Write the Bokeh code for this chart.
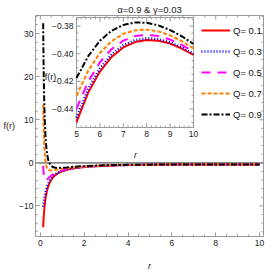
import numpy as np
from bokeh.plotting import figure
from bokeh.models import Range1d, FixedTicker, Span, Legend, LegendItem
from bokeh.core.properties import value
from bokeh.embed import file_html
from bokeh.resources import INLINE

# ---------------- data ----------------
r = [0.13, 0.14, 0.15, 0.16, 0.18, 0.2, 0.22, 0.25, 0.3, 0.35, 0.4, 0.45, 0.5,
     0.6, 0.7, 0.8, 0.9, 1.0, 1.2, 1.4, 1.7, 2.0, 2.5, 3.0, 3.5, 4.0, 4.5, 5.0,
     5.5, 6.0, 6.5, 7.0, 7.5, 8.0, 8.5, 9.0, 9.5, 10.0]

f_q01 = [-14.92, -13.88, -12.98, -12.19, -10.86, -9.80, -8.92, -7.86, -6.55, -5.62,
         -4.91, -4.37, -3.93, -3.26, -2.79, -2.44, -2.16, -1.94, -1.61, -1.38, -1.13,
         -0.964, -0.777, -0.658, -0.577, -0.520, -0.479, -0.4496, -0.4282, -0.4129,
         -0.4023, -0.3954, -0.3915, -0.3900, -0.3905, -0.3926, -0.3962, -0.4009]
f_q03 = [-10.18, -9.80, -9.43, -9.07, -8.40, -7.80, -7.26, -6.58, -5.67, -4.97,
         -4.41, -3.97, -3.61, -3.04, -2.63, -2.31, -2.06, -1.86, -1.56, -1.34, -1.10,
         -0.944, -0.765, -0.649, -0.571, -0.515, -0.475, -0.4464, -0.4255, -0.4106,
         -0.4004, -0.3938, -0.3901, -0.3887, -0.3894, -0.3917, -0.3953, -0.4001]
f_q05 = [-0.72, -1.64, -2.32, -2.82, -3.46, -3.80, -3.96, -4.02, -3.89, -3.66,
         -3.41, -3.18, -2.97, -2.60, -2.30, -2.06, -1.86, -1.70, -1.44, -1.25, -1.05,
         -0.904, -0.739, -0.631, -0.557, -0.505, -0.467, -0.4400, -0.4202, -0.4062,
         -0.3966, -0.3905, -0.3872, -0.3862, -0.3872, -0.3897, -0.3935, -0.3985]
f_q07 = [13.48, 10.61, 8.35, 6.56, 3.95, 2.20, 1.00, -0.18, -1.22, -1.60,
         -1.72, -1.76, -1.76, -1.70, -1.62, -1.54, -1.46, -1.39, -1.25, -1.12, -0.97,
         -0.844, -0.701, -0.605, -0.538, -0.490, -0.456, -0.4304, -0.4123, -0.3995,
         -0.3909, -0.3856, -0.3830, -0.3825, -0.3838, -0.3867, -0.3909, -0.3961]
f_q09 = [32.42, 26.93, 22.57, 19.06, 13.83, 10.20, 7.61, 4.94, 2.33, 0.91,
         0.09, -0.42, -0.73, -1.04, -1.16, -1.19, -1.17, -1.14, -1.06, -0.97, -0.85,
         -0.764, -0.649, -0.569, -0.512, -0.470, -0.440, -0.4176, -0.4017, -0.3906,
         -0.3833, -0.3791, -0.3773, -0.3775, -0.3794, -0.3828, -0.3873, -0.3929]

q_labels = ["Q= 0.1", "Q= 0.3", "Q= 0.5", "Q= 0.7", "Q= 0.9"]
title_text = "α=0.9 & γ=0.03"
x_label = "r"
y_label = "f(r)"

main_xticks = [0, 2, 4, 6, 8, 10]
main_yticks = [-10, 0, 10, 20, 30]
inset_xticks = [5, 6, 7, 8, 9, 10]
inset_xtick_labels = ["5", "6", "7", "8", "9", "10"]
inset_yticks = [-0.44, -0.42, -0.40, -0.38]
inset_ytick_labels = ["−0.44", "−0.42", "−0.40", "−0.38"]

# ---------------- styles ----------------
FONT = "Liberation Sans"
TXT = "#222222"
colors = ["#ff0000", "#0000ff", "#ff00ff", "#ff8000", "#000000"]
widths = [2, 2.5, 2, 2, 2]
dashes = ["solid", "1 2", "9 7", "4 2", "6 2 2 2"]
series = [f_q01, f_q03, f_q05, f_q07, f_q09]
FRAME = "#9a9a9a"

X0, X1 = -0.22, 10.18
Y0, Y1 = -17.1, 34.2
FW, FH = 228, 221
pxx = FW / (X1 - X0)
pxy = FH / (Y1 - Y0)

p = figure(frame_width=FW, frame_height=FH,
           x_range=Range1d(X0, X1), y_range=Range1d(Y0, Y1),
           output_backend="svg", toolbar_location=None,
           min_border_left=0, min_border_right=3,
           min_border_top=0, min_border_bottom=37)
p.grid.visible = False
p.outline_line_color = FRAME
p.outline_line_width = 1
p.background_fill_color = "white"
p.border_fill_color = "white"

p.title.text = title_text
p.title.align = "center"
p.title.text_font = FONT
p.title.text_font_size = "9.5px"
p.title.text_font_style = "normal"
p.title.text_color = TXT
p.title.standoff = 2

x_minor = [v for v in np.arange(0, 10.01, 0.5) if v not in main_xticks]
y_minor = [v for v in np.arange(-16, 35, 2) if v not in main_yticks]

p.xaxis.ticker = FixedTicker(ticks=main_xticks, minor_ticks=x_minor)
p.yaxis.ticker = FixedTicker(ticks=main_yticks, minor_ticks=y_minor)
for ax in p.xaxis + p.yaxis:
    ax.axis_line_color = None
    ax.major_tick_in = 4
    ax.major_tick_out = 0
    ax.minor_tick_in = 2
    ax.minor_tick_out = 0
    ax.major_tick_line_color = FRAME
    ax.minor_tick_line_color = FRAME
    ax.major_label_text_font = FONT
    ax.major_label_text_font_size = "8.5px"
    ax.major_label_text_color = TXT
    ax.major_label_standoff = 3
    ax.axis_label_text_font = FONT
    ax.axis_label_text_font_size = "9px"
    ax.axis_label_text_color = TXT

p.xaxis.axis_label = x_label
p.xaxis.axis_label_text_font_style = "italic"
p.xaxis.axis_label_standoff = 12
p.yaxis.axis_label = y_label
p.yaxis.axis_label_text_font_style = "normal"
p.yaxis.axis_label_standoff = 1
p.yaxis.major_label_standoff = 2
for ax in p.yaxis:
    if "axis_label_orientation" in ax.properties():
        ax.axis_label_orientation = "horizontal"

# mirrored ticks on the right and top frame edges
def mirror_ticks(vals, length_px, on_right):
    vals = np.array(vals, float)
    if on_right:
        p.segment(x0=np.full(len(vals), X1), x1=np.full(len(vals), X1 - length_px / pxx),
                  y0=vals, y1=vals, line_color=FRAME, line_width=1)
    else:
        p.segment(y0=np.full(len(vals), Y1), y1=np.full(len(vals), Y1 - length_px / pxy),
                  x0=vals, x1=vals, line_color=FRAME, line_width=1)

mirror_ticks(main_yticks, 4, True)
mirror_ticks(y_minor, 2, True)
mirror_ticks(main_xticks, 4, False)
mirror_ticks(x_minor, 2, False)

# zero axis line
p.add_layout(Span(location=0, dimension="width", line_color="#8a8a8a",
                  line_width=1.6, level="underlay"))

# main curves
main_renderers = []
for ys, c, w, d in zip(series, colors, widths, dashes):
    main_renderers.append(p.line(r, ys, line_color=c, line_width=w, line_dash=d))

# ---------------- inset (drawn on extra ranges) ----------------
IX0, IX1 = 5.0, 10.0
IY0, IY1 = -0.4535, -0.3737
in_left, in_w = 41, 117     # px from frame left / width
in_top, in_h = 2, 110       # px from frame top / height
ipx = in_w / (IX1 - IX0)
ipy = in_h / (IY1 - IY0)
p.extra_x_ranges = {"ix": Range1d(IX0 - in_left / ipx,
                                  IX1 + (FW - in_left - in_w) / ipx)}
p.extra_y_ranges = {"iy": Range1d(IY0 - (FH - in_top - in_h) / ipy,
                                  IY1 + in_top / ipy)}
kw = dict(x_range_name="ix", y_range_name="iy")

p.quad(left=[IX0], right=[IX1], bottom=[IY0], top=[IY1], fill_color="white",
       line_color=FRAME, line_width=1, **kw)

ixm = [v for v in np.arange(IX0, IX1 + 1e-6, 0.2)
       if min(abs(v - t) for t in inset_xticks) > 1e-6]
iym = [v for v in np.arange(-0.450, -0.374, 0.005)
       if min(abs(v - t) for t in inset_yticks) > 1e-6]


def tick_segs(vals, length_px, horizontal_axis):
    vals = np.array(vals, float)
    n = len(vals)
    if horizontal_axis:
        dl = length_px / ipy
        x0 = np.concatenate([vals, vals]); x1 = x0
        y0 = np.concatenate([np.full(n, IY0), np.full(n, IY1)])
        y1 = np.concatenate([np.full(n, IY0 + dl), np.full(n, IY1 - dl)])
    else:
        dl = length_px / ipx
        y0 = np.concatenate([vals, vals]); y1 = y0
        x0 = np.concatenate([np.full(n, IX0), np.full(n, IX1)])
        x1 = np.concatenate([np.full(n, IX0 + dl), np.full(n, IX1 - dl)])
    p.segment(x0=x0, y0=y0, x1=x1, y1=y1, line_color=FRAME, line_width=1, **kw)


tick_segs(inset_xticks, 4, True)
tick_segs(ixm, 2, True)
tick_segs(inset_yticks, 4, False)
tick_segs(iym, 2, False)

p.text(x=[IX0] * len(inset_yticks), y=inset_yticks, text=inset_ytick_labels,
       x_offset=-3, text_align="right", text_baseline="middle",
       text_font=value(FONT), text_font_size="8.5px", text_color=TXT, **kw)
p.text(x=inset_xticks, y=[IY0] * len(inset_xticks), text=inset_xtick_labels,
       y_offset=3, text_align="center", text_baseline="top",
       text_font=value(FONT), text_font_size="8.5px", text_color=TXT, **kw)
p.text(x=[IX0], y=[IY1], text=[y_label], x_offset=-26, y_offset=59,
       text_align="center", text_baseline="middle", text_font=value(FONT),
       text_font_size="9px", text_color=TXT, **kw)
p.text(x=[IX0], y=[IY0], text=[x_label], x_offset=59, y_offset=27,
       text_align="center", text_baseline="middle", text_font=value(FONT),
       text_font_size="9px", text_font_style="italic", text_color=TXT, **kw)

mask = [i for i, v in enumerate(r) if v >= IX0]
rin = [r[i] for i in mask]
for ys, c, w, d in zip(series, colors, widths, dashes):
    p.line(rin, [ys[i] for i in mask], line_color=c, line_width=w, line_dash=d, **kw)

# ---------------- legend ----------------
legend = Legend(items=[LegendItem(label=lab, renderers=[rr])
                       for lab, rr in zip(q_labels, main_renderers)],
                location=(166, 115), glyph_width=29, glyph_height=14,
                label_height=14, spacing=7, label_standoff=3, padding=0,
                margin=0, border_line_alpha=0, background_fill_alpha=0,
                label_text_font=FONT, label_text_font_size="9.5px",
                label_text_color="#111111")
p.add_layout(legend)

open("out.html", "w").write(file_html(p, INLINE))
